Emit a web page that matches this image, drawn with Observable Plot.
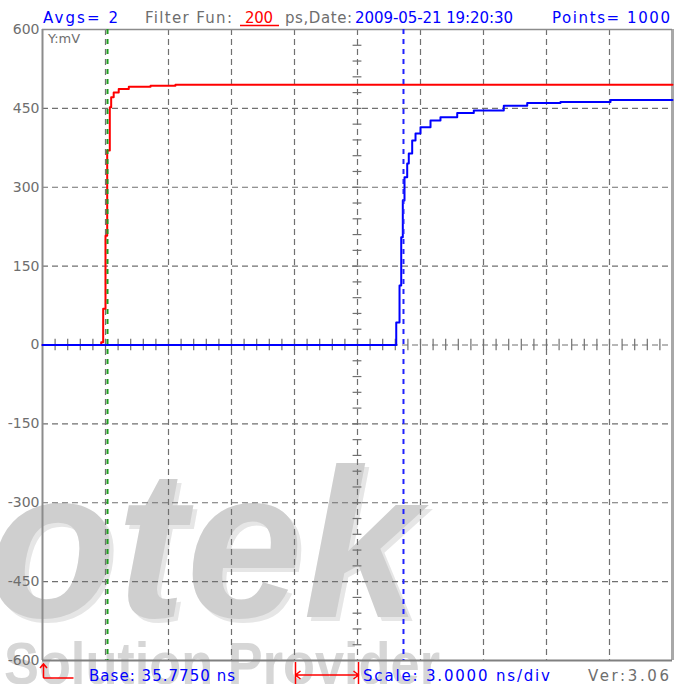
<!DOCTYPE html>
<html><head><meta charset="utf-8">
<script src="https://cdn.jsdelivr.net/npm/d3@7"></script>
<script src="https://cdn.jsdelivr.net/npm/@observablehq/plot@0.6"></script>
<style>body{margin:0;background:#fff;}#chart{width:680px;height:684px;}</style>
</head><body><div id="chart"></div>
<script>
// ---- data ----
const baseNs = 35.775;          // Base: 35.7750 ns
const nsPerDiv = 3;             // Scale: 3.0000 ns/div
const divisions = 10;
const yTicks = [600, 450, 300, 150, 0, -150, -300, -450, -600];
const yGridValues = [450, 300, 150, -150, -300, -450];

const redTime = [35.775, 38.571, 38.664, 38.775, 38.856, 38.980, 39.045, 39.165, 39.405, 39.885, 40.920, 42.105, 65.775];
const redMv   = [0, 5, 69, 208, 370, 452, 471, 480, 487, 491, 493, 495, 495];

const blueTime = [35.775, 52.620, 52.776, 52.857, 52.932, 53.013, 53.142, 53.217, 53.379, 53.538, 53.775, 54.252, 54.726, 55.524, 56.313, 57.741, 58.857, 60.441, 62.823, 65.775];
const blueMv   = [0, 43, 113, 205, 275, 319, 345, 364, 389, 402, 414, 427, 433, 441, 446, 455, 460, 462, 466, 466];

const cursorGreenNs = 38.871;
const cursorBlueNs = 52.965;

const headerLabels = ["Avgs= 2", "Filter Fun:", "200", "ps,Date:", "2009-05-21 19:20:30", "Points= 1000"];
const footerLabels = ["Base: 35.7750 ns", "Scale: 3.0000 ns/div", "Ver:3.06"];
const yUnitLabel = "Y:mV";
const watermarkLabels = ["otek", "Solution Provider"];

// ---- derived tables ----
const red = redTime.map((t, i) => ({t, v: redMv[i]}));
const blue = blueTime.map((t, i) => ({t, v: blueMv[i]}));
const endNs = baseNs + nsPerDiv * divisions;
const centerNs = baseNs + nsPerDiv * divisions / 2;
const xGrid = d3.range(1, divisions).map(k => baseNs + nsPerDiv * k);
const minorX = d3.range(1, divisions * 5).map(k => baseNs + nsPerDiv * k / 5);
const minorY = d3.range(1, 40).map(k => -600 + 30 * k);

const GRID = "#707070";
const BLUE = "#0000ff", RED = "#ff0000", GREY = "#6e6e6e";

const chart = Plot.plot({
  width: 680, height: 684,
  marginLeft: 42, marginRight: 8, marginTop: 29, marginBottom: 24,
  style: {fontFamily: "DejaVu Sans, sans-serif", background: "transparent"},
  x: {domain: [baseNs, endNs], axis: null},
  y: {domain: [-600, 600], axis: null},
  marks: [
    Plot.ruleX(xGrid, {stroke: GRID, strokeWidth: 1.2, strokeDasharray: "6,4"}),
    Plot.ruleY(yGridValues, {stroke: GRID, strokeWidth: 1.2, strokeDasharray: "6,4"}),
    Plot.ruleY([0], {stroke: GRID, strokeWidth: 1.2, strokeDasharray: "6,4"}),
    Plot.ruleX(minorX, {y1: -11, y2: 11, stroke: GRID, strokeWidth: 1.2}),
    Plot.ruleY(minorY, {x1: centerNs - 0.21, x2: centerNs + 0.21, stroke: GRID, strokeWidth: 1.2}),
    Plot.ruleX([baseNs], {stroke: "#8c8c8c", strokeWidth: 2}),
    Plot.ruleX([endNs], {stroke: "#a8a8a8", strokeWidth: 3}),
    Plot.ruleY([600], {stroke: "#8c8c8c", strokeWidth: 1.5}),
    Plot.ruleY([-600], {stroke: "#808080", strokeWidth: 2}),
    Plot.axisY(yTicks, {tickSize: 0, tickPadding: 3, fontSize: 14, fill: GREY, label: null, tickFormat: d => String(d)}),
    Plot.line(red, {x: "t", y: "v", stroke: RED, strokeWidth: 2, curve: "step-after"}),
    Plot.line(blue, {x: "t", y: "v", stroke: BLUE, strokeWidth: 2, curve: "step-after"}),
    Plot.ruleX([cursorGreenNs], {stroke: "#1f9a1f", strokeWidth: 2, strokeDasharray: "5,5"}),
    Plot.ruleX([cursorBlueNs], {stroke: "#2020ff", strokeWidth: 2, strokeDasharray: "5,5"})
  ]
});
document.getElementById("chart").appendChild(chart);

const svg = d3.select(chart);
const xs = chart.scale("x");
const X = v => xs.apply(v);

// watermark behind everything
const wm = svg.insert("g", ":first-child").attr("text-anchor", "start")
  .attr("font-family", "Liberation Sans, Arial, sans-serif").attr("font-weight", "bold");
wm.append("text").attr("x", -8).attr("y", 621).attr("font-size", 212).attr("font-style", "italic")
  .attr("fill", "#e6e6e6").attr("textLength", 432).attr("lengthAdjust", "spacingAndGlyphs").text(watermarkLabels[0]);
wm.append("text").attr("x", -12).attr("y", 617).attr("font-size", 212).attr("font-style", "italic")
  .attr("fill", "#cfcfcf").attr("textLength", 432).attr("lengthAdjust", "spacingAndGlyphs").text(watermarkLabels[0]);
wm.append("text").attr("x", 4).attr("y", 684).attr("font-size", 60)
  .attr("fill", "#d6d6d6").attr("textLength", 436).attr("lengthAdjust", "spacingAndGlyphs").text(watermarkLabels[1]);

// header
const headerLayout = [[43, 75, BLUE], [145, 87, GREY], [245, 28, RED], [285, 67, GREY], [355, 158, BLUE], [552, 118, BLUE]];
const hg = svg.append("g").attr("text-anchor", "start").attr("font-family", "DejaVu Sans, sans-serif").attr("font-size", 15);
headerLabels.forEach((s, i) => {
  const [x, w, c] = headerLayout[i];
  hg.append("text").attr("x", x).attr("y", 23).attr("fill", c).attr("textLength", w).attr("lengthAdjust", "spacing")
    .style("white-space", "pre").text(s);
});
hg.append("line").attr("x1", 240).attr("x2", 279).attr("y1", 25.5).attr("y2", 25.5).attr("stroke", RED).attr("stroke-width", 1.5);

// unit label
svg.append("text").attr("text-anchor", "start").attr("x", 48).attr("y", 43).attr("font-size", 13).attr("fill", GREY)
  .attr("font-family", "DejaVu Sans, sans-serif").text(yUnitLabel);

// footer
const fg = svg.append("g").attr("text-anchor", "start").attr("font-family", "DejaVu Sans, sans-serif").attr("font-size", 15);
const footerLayout = [[89, 146, BLUE], [363, 187, BLUE], [588, 81, GREY]];
footerLabels.forEach((s, i) => {
  const [x, w, c] = footerLayout[i];
  fg.append("text").attr("x", x).attr("y", 681).attr("fill", c).attr("textLength", w).attr("lengthAdjust", "spacing").text(s);
});
// base marker arrow
const bx = X(baseNs) + 1.5;
fg.append("path").attr("fill", "none").attr("stroke", RED).attr("stroke-width", 1.5)
  .attr("d", `M${bx},678V664M${bx - 3.5},668L${bx},664L${bx + 3.5},668M${bx},678H${bx + 30}`);
// one-division bracket
const d0 = X(baseNs + nsPerDiv * 4) + 1.5, d1 = X(baseNs + nsPerDiv * 5) + 1.5;
fg.append("path").attr("fill", "none").attr("stroke", RED).attr("stroke-width", 1.5)
  .attr("d", `M${d0},662V684M${d1},662V684M${d0},675H${d1}M${d0 + 5},671L${d0},675L${d0 + 5},679M${d1 - 5},671L${d1},675L${d1 - 5},679`);
</script>
</body></html>
